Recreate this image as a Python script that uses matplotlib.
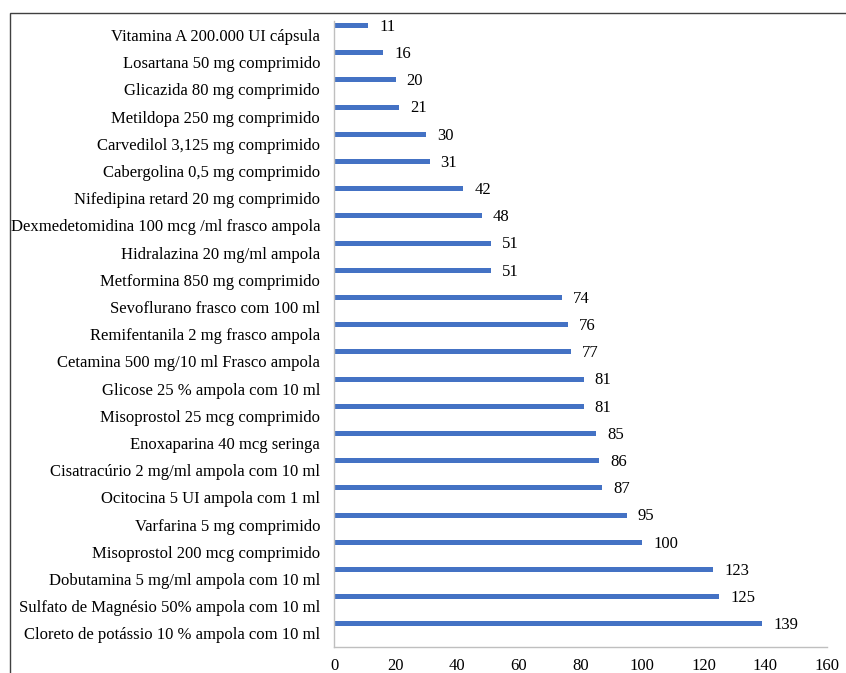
import matplotlib.pyplot as plt
from matplotlib.patches import Rectangle
import numpy as np

plt.rcParams["font.family"] = ["Liberation Serif", "DejaVu Serif"]

# Medicamentos e quantidades (de cima para baixo)
medicamentos = [
    "Vitamina A 200.000 UI cápsula",
    "Losartana 50 mg comprimido",
    "Glicazida 80 mg comprimido",
    "Metildopa 250 mg comprimido",
    "Carvedilol 3,125 mg comprimido",
    "Cabergolina 0,5 mg comprimido",
    "Nifedipina retard 20 mg comprimido",
    "Dexmedetomidina 100 mcg /ml frasco ampola",
    "Hidralazina 20 mg/ml ampola",
    "Metformina 850 mg comprimido",
    "Sevoflurano frasco com 100 ml",
    "Remifentanila 2 mg frasco ampola",
    "Cetamina 500 mg/10 ml Frasco ampola",
    "Glicose 25 % ampola com 10 ml",
    "Misoprostol 25 mcg comprimido",
    "Enoxaparina 40 mcg seringa",
    "Cisatracúrio 2 mg/ml ampola com 10 ml",
    "Ocitocina 5 UI ampola com 1 ml",
    "Varfarina 5 mg comprimido",
    "Misoprostol 200 mcg comprimido",
    "Dobutamina 5 mg/ml ampola com 10 ml",
    "Sulfato de Magnésio 50% ampola com 10 ml",
    "Cloreto de potássio 10 % ampola com 10 ml",
]
quantidades = [11, 16, 20, 21, 30, 31, 42, 48, 51, 51, 74, 76, 77, 81, 81,
               85, 86, 87, 95, 100, 123, 125, 139]
xticks = [0, 20, 40, 60, 80, 100, 120, 140, 160]

fs = 12

fig = plt.figure(figsize=(8.46, 6.73), dpi=100)
ax = fig.add_axes([0.3948, 0.0386, 0.5827, 0.9296])

# moldura externa
fig.patches.append(Rectangle((10 / 846, -0.1), 1.2, 1.1 - 13 / 673,
                             transform=fig.transFigure, fill=False,
                             edgecolor="#404040", linewidth=1.0))

y = np.arange(len(medicamentos))
desloc = 0.35
ax.barh(y - desloc, quantidades, height=0.19, color="#4472C4")

for yi, v in zip(y, quantidades):
    ax.annotate(str(v), (v, yi - desloc), xytext=(8, -1),
                textcoords="offset points", va="center", ha="left",
                fontsize=fs)

ax.set_xlim(0, 160)
ax.set_ylim(len(medicamentos) - 0.5, -0.5)
ax.set_xticks(xticks)
ax.set_yticks(y)
ax.set_yticklabels(medicamentos, fontsize=fs)
ax.tick_params(axis="x", length=0, pad=8, labelsize=fs)
ax.tick_params(axis="y", length=0, pad=10)

for s in ["top", "right"]:
    ax.spines[s].set_visible(False)
for s in ["left", "bottom"]:
    ax.spines[s].set_color("#BFBFBF")
    ax.spines[s].set_linewidth(1.0)

fig.savefig("out.png", dpi=100)
